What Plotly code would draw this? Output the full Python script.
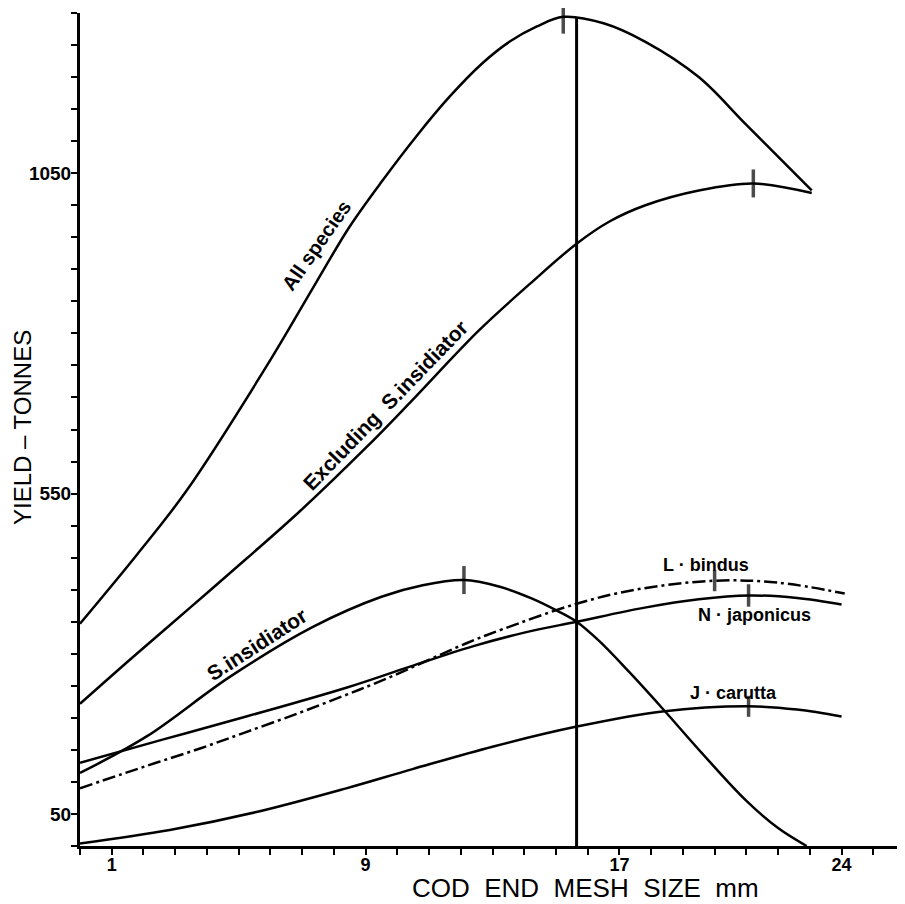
import plotly.graph_objects as go

# ---- data (x = cod end mesh size mm, y = yield tonnes) ----
all_x = [0, 1.8, 3.35, 5.87, 7.45, 8.49, 9.54, 10.59, 11.64, 12.69, 13.53, 14.4, 15.23, 16.5, 17.82, 19.5, 20.97, 23.06]
all_y = [347, 455, 554, 748, 880, 966, 1039, 1107, 1169, 1222, 1255, 1279, 1294, 1284, 1255, 1200, 1127, 1023]

excl_x = [0, 1.67, 3.47, 5.26, 6.92, 9.02, 10.4, 12.58, 14.15, 15.65, 16.7, 17.82, 19.5, 21.22, 23.06]
excl_y = [222, 295, 372, 449, 522, 622, 692, 805, 876, 940, 975, 1000, 1023, 1034, 1019]

sins_x = [0, 2.1, 4.72, 7.34, 9.5, 10.8, 12.1, 13.2, 14.25, 15.0, 15.65, 16.36, 17.3, 18.35, 19.6, 20.97, 22.0, 22.9]
sins_y = [114, 171, 264, 342, 389, 407, 415, 405, 386, 368, 350, 320, 272, 215, 145, 72, 28, 0]

lbin_x = [0, 1.31, 2.47, 3.83, 5.19, 6.87, 8.34, 9.6, 12.16, 13.3, 15.65, 17.5, 20.0, 22.0, 24.1]
lbin_y = [90, 112, 131, 153, 177, 207, 235, 260, 316, 338, 378, 400, 414, 411, 394]

njap_x = [0, 2.6, 5.24, 8.39, 10.4, 12.4, 14.0, 15.65, 17.8, 19.5, 21.07, 22.6, 24.0]
njap_y = [130, 166, 202, 247, 280, 312, 333, 350, 372, 385, 391, 387, 377]

jcar_x = [0, 2.83, 5.56, 8.39, 10.48, 13.0, 15.62, 18.35, 21.07, 22.6, 24.0]
jcar_y = [4, 25, 53, 90, 120, 155, 186, 210, 218, 213, 202]

# optimum (peak) markers on each curve
peak_x = [15.23, 21.22, 12.1, 20.0, 21.07, 21.07]
peak_y = [1294, 1034, 415, 414, 391, 218]
peak_size = [24, 20, 20, 15, 16, 15]

# current mesh size (vertical reference line)
mesh_now_x = [15.65, 15.65]
mesh_now_y = [0, 1293]

x_tickvals = [1, 9, 17, 24]
y_tickvals = [50, 550, 1050]

LBL = "Liberation Sans, Arial, sans-serif"

# page geometry (the page body adds an 8 px offset)
OFF = 8
W, H = 905 - OFF, 904 - OFF
ML, MR, MT, MB = 80 - OFF, 0, 13 - OFF, 58
pw, ph = W - ML - MR, H - MT - MB

fig = go.Figure()

solid = dict(color="black", width=2.5, shape="spline", smoothing=1.0)

fig.add_trace(go.Scatter(x=all_x, y=all_y, mode="lines", line=solid, name="All species"))
fig.add_trace(go.Scatter(x=excl_x, y=excl_y, mode="lines", line=solid, name="Excluding S.insidiator"))
fig.add_trace(go.Scatter(x=sins_x, y=sins_y, mode="lines", line=solid, name="S.insidiator"))
fig.add_trace(go.Scatter(x=njap_x, y=njap_y, mode="lines", line=solid, name="N.japonicus"))
fig.add_trace(go.Scatter(x=jcar_x, y=jcar_y, mode="lines", line=solid, name="J.carutta"))
fig.add_trace(go.Scatter(x=lbin_x, y=lbin_y, mode="lines",
                         line=dict(color="black", width=2.5, shape="spline", smoothing=1.0,
                                   dash="13px,4px,3px,4px"),
                         name="L.bindus"))
fig.add_trace(go.Scatter(x=mesh_now_x, y=mesh_now_y, mode="lines",
                         line=dict(color="black", width=3), name="current mesh"))
fig.add_trace(go.Scatter(x=peak_x, y=peak_y, mode="markers",
                         marker=dict(symbol="line-ns", size=peak_size,
                                     line=dict(width=3.5, color="black"), color="black"),
                         name="optimum", cliponaxis=False))

# curve labels
def lab(text, x, y, angle=0, size=20):
    fig.add_annotation(x=x, y=y, xref="x", yref="y", text=text, showarrow=False,
                       textangle=angle, xanchor="center", yanchor="middle",
                       font=dict(family=LBL, size=size, color="black", weight="bold"))

lab("All species", 7.46, 938, -55, 20)
lab("Excluding  S.insidiator", 9.61, 688, -46, 21)
lab("S.insidiator", 5.57, 314, -33, 21)
lab("L · bindus", 19.73, 438, 0, 18)
lab("N · japonicus", 21.27, 360, 0, 18)
lab("J · carutta", 20.58, 239, 0, 18)

# axis titles (positions in page pixels -> paper)
def page_to_paper(px, py):
    fx, fy = px - OFF, py - OFF
    return (fx - ML) / pw, (H - MB - fy) / ph

tx, ty = page_to_paper(23, 428)
fig.add_annotation(x=tx, y=ty, xref="paper", yref="paper", text="YIELD – TONNES", showarrow=False,
                   textangle=-90, xanchor="center", yanchor="middle",
                   font=dict(family=LBL, size=24, color="black"))
tx, ty = page_to_paper(585, 888)
fig.add_annotation(x=tx, y=ty, xref="paper", yref="paper", text="COD  END  MESH  SIZE  mm",
                   showarrow=False, xanchor="center", yanchor="middle",
                   font=dict(family=LBL, size=26, color="black"))

fig.update_layout(
    width=W, height=H,
    margin=dict(l=ML, r=MR, t=MT, b=MB, autoexpand=False),
    paper_bgcolor="white", plot_bgcolor="white",
    showlegend=False,
    xaxis=dict(range=[0, 26], showline=True, linewidth=3, linecolor="black",
               ticks="outside", ticklen=6, tickwidth=2, tickcolor="black",
               tickvals=x_tickvals, ticktext=[str(v) for v in x_tickvals],
               tickfont=dict(family=LBL, size=18, color="black", weight="bold"),
               ticklabelstandoff=-6, automargin=False,
               showgrid=False, zeroline=False,
               minor=dict(dtick=1, tick0=0, ticks="outside", ticklen=6, tickwidth=2, tickcolor="black")),
    yaxis=dict(range=[0, 1300], showline=True, linewidth=3, linecolor="black",
               ticks="outside", ticklen=6, tickwidth=2, tickcolor="black",
               tickvals=y_tickvals, ticktext=[str(v) for v in y_tickvals],
               tickfont=dict(family=LBL, size=19, color="black", weight="bold"),
               ticklabelstandoff=-4, automargin=False,
               showgrid=False, zeroline=False,
               minor=dict(dtick=50, tick0=0, ticks="outside", ticklen=6, tickwidth=2, tickcolor="black")),
)

fig.write_html("out.html")
